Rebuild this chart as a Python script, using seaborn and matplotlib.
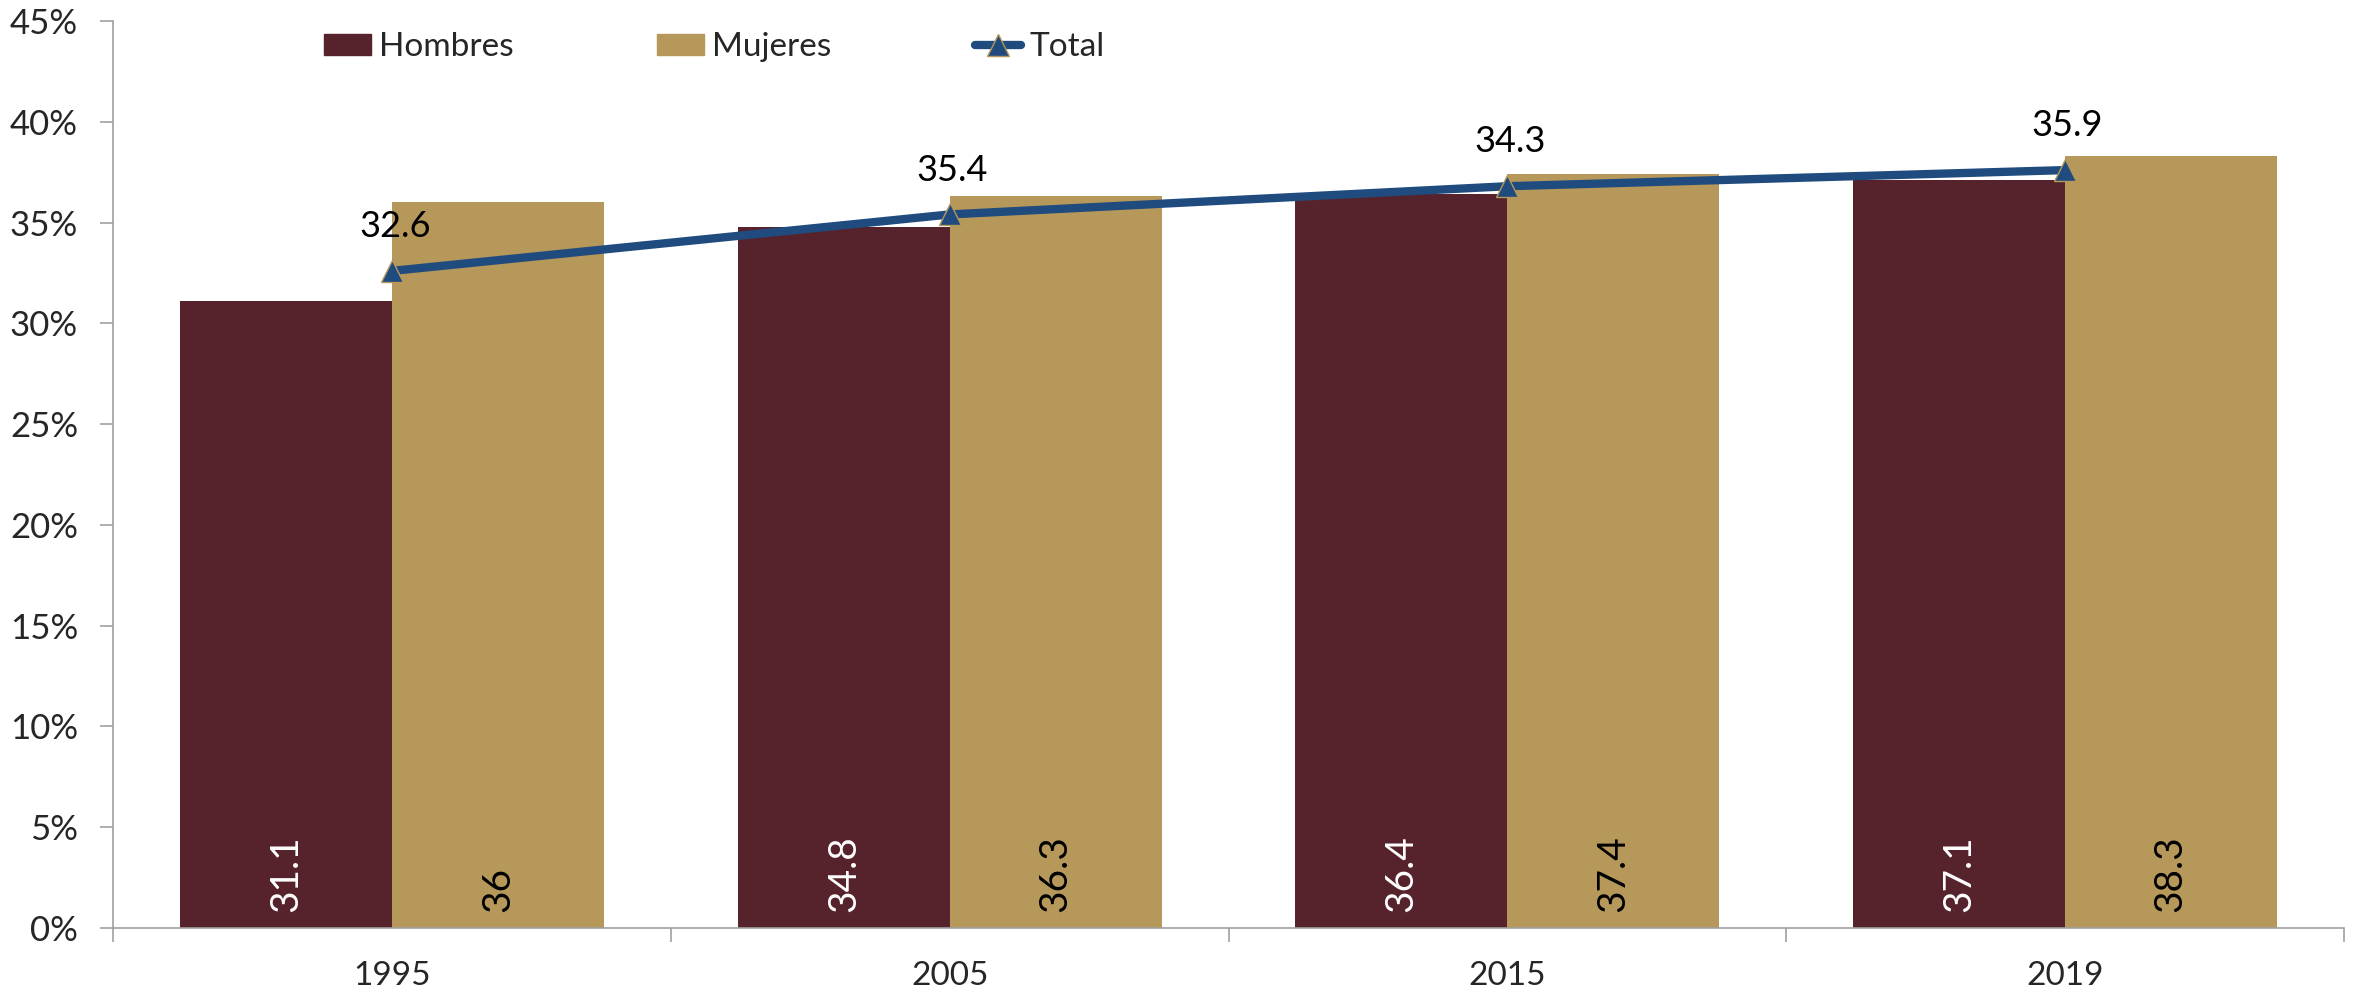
import matplotlib
matplotlib.use("Agg")
import matplotlib.pyplot as plt
import pandas as pd
import seaborn as sns
from matplotlib.patches import Patch
from matplotlib.lines import Line2D

# values
anios = ["1995", "2005", "2015", "2019"]
hombres = [31.1, 34.8, 36.4, 37.1]
mujeres = [36.0, 36.3, 37.4, 38.3]
total_pos = [32.6, 35.4, 36.8, 37.6]      # where the triangles sit
total_txt = ["32.6", "35.4", "34.3", "35.9"]  # labels printed over them
hombres_txt = ["31.1", "34.8", "36.4", "37.1"]
mujeres_txt = ["36", "36.3", "37.4", "38.3"]
yticks = [0, 5, 10, 15, 20, 25, 30, 35, 40, 45]

c_h = "#56232D"
c_m = "#B7985B"
c_t = "#1F4B7E"
c_ax = "#A0A0A0"

df = pd.DataFrame({
    "Año": anios * 2,
    "valor": hombres + mujeres,
    "Sexo": ["Hombres"] * 4 + ["Mujeres"] * 4,
})

sns.set_style("white")
plt.rcParams["font.family"] = ["Lato", "DejaVu Sans"]

fig = plt.figure(figsize=(23.74, 9.97), dpi=100)
ax = fig.add_axes([0.0478, 0.0692, 0.9394, 0.9098])

sns.barplot(data=df, x="Año", y="valor", hue="Sexo", palette=[c_h, c_m],
            width=0.76, gap=0, saturation=1, linewidth=0, ax=ax, legend=False)

sns.pointplot(x=anios, y=total_pos, color=c_t, markers="^", linewidth=6,
              markersize=16, markeredgecolor=c_m, markeredgewidth=1, ax=ax)

# value labels inside bars
for cont, txts, col in zip(ax.containers[:2], [hombres_txt, mujeres_txt], ["white", "black"]):
    for bar, t in zip(cont, txts):
        ax.text(bar.get_x() + bar.get_width() / 2, 0.8, t, rotation=90,
                ha="center", va="bottom", color=col, fontsize=28)

for i, (v, t) in enumerate(zip(total_pos, total_txt)):
    ax.annotate(t, (i, v), xytext=(2, 20), textcoords="offset points",
                ha="center", va="bottom", fontsize=26, color="black")

ax.set_ylim(0, 45)
ax.set_xlim(-0.5, 3.5)
ax.set_yticks(yticks)
ax.set_yticklabels([f"{v}%" for v in yticks])
ax.set_xticks([-0.5, 0.5, 1.5, 2.5, 3.5], minor=True)
ax.tick_params(axis="x", which="major", length=0, labelsize=24, pad=24)
ax.tick_params(axis="x", which="minor", length=10, color=c_ax, width=1.2, bottom=True)
ax.tick_params(axis="y", length=9.5, color=c_ax, width=1.2, labelsize=25, left=True, pad=16)
ax.set_xlabel("")
ax.set_ylabel("")
for s in ["top", "right"]:
    ax.spines[s].set_visible(False)
for s in ["left", "bottom"]:
    ax.spines[s].set_color(c_ax)
    ax.spines[s].set_linewidth(1.2)

handles = [Patch(color=c_h), Patch(color=c_m),
           Line2D([], [], color=c_t, lw=6, marker="^", markersize=16,
                  markeredgecolor=c_m, solid_capstyle="round")]
ax.legend(handles, ["Hombres", "Mujeres", "Total"], loc="center left",
          bbox_to_anchor=(0.087, 0.971), ncol=3, frameon=False, fontsize=24,
          borderpad=0, handlelength=1.4, handletextpad=0.25, columnspacing=4.3,
          handleheight=0.6)

fig.savefig("out.png", dpi=100)
